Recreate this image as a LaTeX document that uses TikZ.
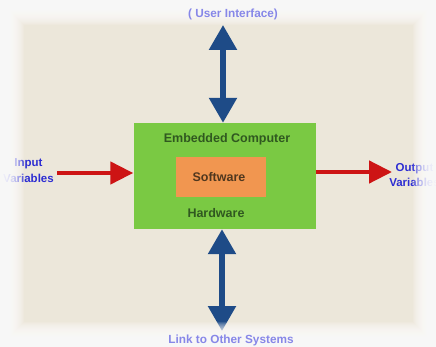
\documentclass[tikz,border=0pt]{standalone}
\usepackage{fontspec}
\setmainfont{Liberation Sans}
\usetikzlibrary{arrows.meta}
\definecolor{bgbeige}{RGB}{236,231,218}
\definecolor{boxgreen}{RGB}{122,201,67}
\definecolor{boxorange}{RGB}{241,150,80}
\definecolor{txtgreen}{RGB}{48,88,32}
\definecolor{txtbrown}{RGB}{80,55,30}
\definecolor{arrblue}{RGB}{30,75,135}
\definecolor{arrred}{RGB}{205,20,20}
\definecolor{varblue}{RGB}{45,45,210}
\definecolor{lavender}{RGB}{135,135,232}
\tikzset{
  lbl/.style={font=\fontsize{12.5}{14}\selectfont\bfseries, inner sep=0pt},
  varlbl/.style={font=\fontsize{11.5}{15.5}\selectfont\bfseries, text=varblue, align=center, inner sep=0pt},
  sidelbl/.style={font=\fontsize{11.8}{14}\selectfont\bfseries, text=lavender, inner sep=0pt},
  bluearr/.style={draw=arrblue, line width=5.5pt,
     {Triangle[width=27pt,length=25pt]}-{Triangle[width=27pt,length=25pt]}},
  redarr/.style={draw=arrred, line width=4.5pt, -{Triangle[width=22pt,length=23pt]}},
}
\begin{document}
\begin{tikzpicture}[x=1pt,y=-1pt]
\useasboundingbox (0,0) rectangle (436,347);
\clip (0,0) rectangle (436,347);
\fill[bgbeige] (0,0) rectangle (436,347);
% boxes
\node[fill=boxgreen, minimum width=182pt, minimum height=106pt, inner sep=0pt] (comp) at (224.5,176) {};
\node[fill=boxorange, minimum width=90pt, minimum height=40pt, inner sep=0pt] (soft) at (221,177) {};
\node[lbl, text=txtgreen] (emb) at (227,139) {Embedded Computer};
\node[lbl, text=txtbrown] (swt) at (219,177) {Software};
\node[lbl, text=txtgreen] (hw) at (216,213) {Hardware};
% side labels
\node[varlbl] (inp) at (28.5,170.5) {Input\\Variables};
\node[varlbl] (outp) at (414.5,175) {Output\\Variables};
% arrow ends
\coordinate (uiT) at (223,25);
\coordinate (lkB) at (222,331);
\coordinate (inS) at (57,173);
\coordinate (outE) at (392,172);
\draw[bluearr] (uiT) -- (uiT |- comp.north);
\draw[bluearr] (lkB |- comp.south) -- (lkB);
\draw[redarr] (inS) -- (inS -| comp.west);
\draw[redarr] (outE -| comp.east) -- (outE);
% vignette
\foreach \i in {1,...,24} {
  \fill[white, fill opacity=0.12, even odd rule]
    (0,0) rectangle (436,347)
    (\i*1.0, \i*1.05) rectangle (436-\i*0.95, 347-\i*1.05);
}
% top / bottom labels
\node[sidelbl] (ui) at (233,14) {( User Interface)};
\node[sidelbl] (lk) at (231,340) {Link to Other Systems};
\end{tikzpicture}
\end{document}
